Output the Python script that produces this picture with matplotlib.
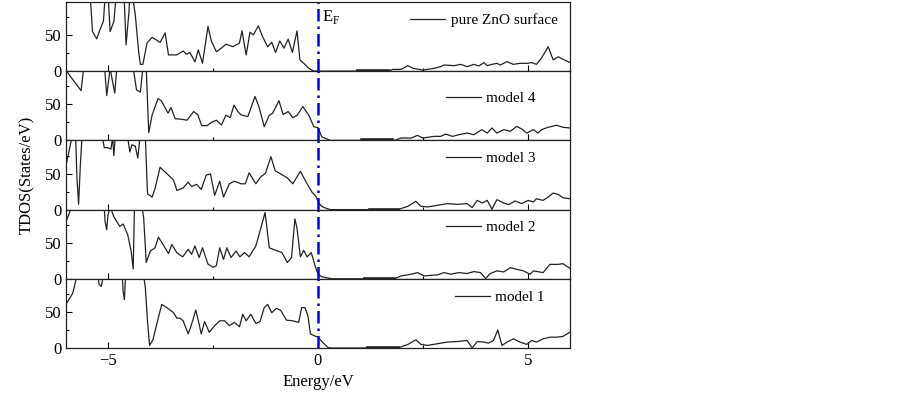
import matplotlib
matplotlib.use("Agg")
import matplotlib.pyplot as plt
from matplotlib.ticker import MultipleLocator, FixedLocator

plt.rcParams['font.family'] = ['Liberation Serif', 'DejaVu Serif']
plt.rcParams['mathtext.fontset'] = 'custom'
plt.rcParams['mathtext.rm'] = 'Liberation Serif'

# ---------------- data ----------------
labels = ["pure ZnO surface", "model 4", "model 3", "model 2", "model 1"]

e_pure = [-6.0, -5.45, -5.37, -5.27, -5.16, -5.11, -5.06, -5.0, -4.95, -4.86, -4.80, -4.62, -4.57, -4.50, -4.48,
          -4.43, -4.35, -4.27, -4.23, -4.17, -4.07, -3.95, -3.76, -3.64, -3.56, -3.36, -3.21, -3.13, -3.05, -2.93,
          -2.85, -2.75, -2.62, -2.54, -2.42, -2.30, -2.19, -2.03, -1.87, -1.81, -1.71, -1.62, -1.54, -1.42, -1.32,
          -1.20, -1.10, -1.01, -0.91, -0.81, -0.71, -0.61, -0.50, -0.43, -0.34, -0.22, -0.10, 0.02, 0.5, 0.96,
          1.67, 1.78, 1.98, 2.14, 2.26, 2.41, 2.49, 2.61, 2.77, 2.92, 3.0, 3.24, 3.4, 3.55, 3.71,
          3.83, 3.95, 4.03, 4.14, 4.26, 4.34, 4.5, 4.65, 4.81, 4.97, 5.09, 5.2, 5.32, 5.48, 5.6,
          5.72, 5.83, 6.0]
d_pure = [130, 130, 55.2, 44.9, 62.2, 69, 110, 110, 55, 69, 110, 110, 36.5, 83, 110,
          110, 78, 27, 9.5, 9.5, 39, 47, 40, 53, 22.6, 22.6, 28, 23.5, 26, 13,
          29.6, 11, 62, 42, 27, 32, 37.5, 34, 39, 56, 22.6, 54, 50.5, 63, 48,
          34, 40, 26, 42, 32, 44.5, 26, 56, 15.6, 11, 4, 0.2, 0, 0, 0,
          0, 2.5, 2.5, 7.7, 4, 2.6, 1.6, 2.6, 4, 6.3, 8.6, 7.7, 9.5, 6.3, 9.5,
          7.2, 11.9, 7.7, 9.5, 10.9, 8.6, 13.3, 9.5, 10.9, 10.9, 11.9, 9.5, 18, 34, 15.6,
          20, 16.5, 12]

e_m4 = [-6.0, -5.64, -5.58, -5.08, -5.03, -4.95, -4.84, -4.79, -4.40, -4.32, -4.23, -4.17, -4.09, -4.03, -3.95,
        -3.81, -3.73, -3.57, -3.5, -3.4, -3.26, -3.12, -2.96, -2.86, -2.77, -2.64, -2.54, -2.42, -2.3, -2.19,
        -2.09, -2.0, -1.91, -1.83, -1.67, -1.5, -1.4, -1.28, -1.16, -1.08, -0.93, -0.83, -0.71, -0.6, -0.5,
        -0.36, -0.22, -0.1, 0.0, 0.09, 0.21, 0.3, 1.82, 1.98, 2.22, 2.37, 2.49, 2.77, 2.92, 3.04,
        3.2, 3.36, 3.55, 3.71, 3.9, 4.03, 4.14, 4.26, 4.42, 4.58, 4.73, 4.85, 4.97, 5.13, 5.24,
        5.32, 5.48, 5.68, 5.83, 6.0]
d_m4 = [97, 69, 100, 100, 62, 100, 65.6, 100, 100, 70, 67, 100, 100, 10.7, 35,
        58, 55, 37.7, 45.6, 30, 29.5, 28, 40, 35.4, 20.5, 20.5, 25, 28, 21.4, 35,
        31.7, 49, 40, 35.4, 33, 61, 45.6, 19, 35, 37.7, 55, 36, 40, 31.7, 34.5,
        47, 35, 19, 17.7, 5, 1.9, 0, 0, 3.3, 3.3, 7, 3.3, 5.6, 5.6, 8.8,
        5.6, 7.9, 10.2, 7.9, 14.9, 10.2, 17.2, 10.2, 14.9, 12.6, 19.5, 15.8, 10.2, 14.9, 10.2,
        14.9, 18.2, 21, 18.2, 17.2]

e_m3 = [-6.0, -5.86, -5.77, -5.74, -5.70, -5.66, -5.62, -5.13, -5.09, -5.01, -4.93, -4.89, -4.86, -4.83, -4.53,
        -4.48, -4.43, -4.35, -4.29, -4.24, -4.11, -4.06, -3.95, -3.88, -3.76, -3.6, -3.44, -3.36, -3.21, -3.09,
        -3.01, -2.89, -2.78, -2.66, -2.56, -2.46, -2.34, -2.25, -2.11, -1.99, -1.83, -1.73, -1.64, -1.48, -1.37,
        -1.25, -1.12, -1.02, -0.89, -0.73, -0.6, -0.42, -0.26, -0.14, -0.05, 0.02, 0.09, 0.21, 0.3, 1.9,
        2.14, 2.33, 2.45, 2.61, 2.85, 3.08, 3.32, 3.55, 3.67, 3.79, 3.91, 4.03, 4.14, 4.26, 4.42,
        4.54, 4.69, 4.85, 5.0, 5.13, 5.2, 5.36, 5.48, 5.6, 5.72, 5.83, 6.0]
d_m3 = [61, 100, 100, 45, 7.3, 60, 100, 100, 86, 86, 84, 100, 75, 100, 100,
        80, 90, 88, 71.5, 100, 100, 22, 17.4, 29, 58.7, 50, 41, 26.6, 30, 38,
        32, 35, 28, 48, 49.5, 19.7, 39.4, 17.4, 35.8, 39.4, 35.8, 35.8, 51, 35.8, 45,
        50.5, 73.4, 54, 49.5, 44, 35.8, 53, 35.8, 24, 18.3, 9, 4.5, 1.4, 0, 0,
        4.6, 11.5, 4.6, 3.7, 6, 8.3, 7.3, 8.3, 2.8, 12.8, 9.2, 12.8, 0.5, 13.8, 9.2,
        6.9, 12, 8.3, 12.8, 10.6, 15, 12.8, 17.4, 23, 21, 16.5, 15]

e_m2 = [-6.0, -5.86, -5.09, -5.07, -5.03, -5.0, -4.95, -4.86, -4.72, -4.64, -4.53, -4.45, -4.40, -4.37, -4.19,
        -4.15, -4.09, -3.99, -3.88, -3.8, -3.7, -3.56, -3.48, -3.36, -3.22, -3.09, -3.01, -2.93, -2.83, -2.75,
        -2.62, -2.5, -2.42, -2.34, -2.25, -2.17, -2.07, -1.95, -1.86, -1.75, -1.64, -1.48, -1.36, -1.26, -1.16,
        -1.01, -0.86, -0.73, -0.63, -0.55, -0.5, -0.42, -0.34, -0.26, -0.16, -0.06, 0.0, 0.08, 0.33, 1.82,
        1.98, 2.22, 2.37, 2.53, 2.85, 3.0, 3.16, 3.36, 3.55, 3.71, 3.87, 3.99, 4.1, 4.26, 4.42,
        4.58, 4.73, 4.89, 5.05, 5.13, 5.36, 5.52, 5.72, 5.83, 6.0]
d_m2 = [79.5, 100, 100, 79.5, 68, 88.6, 100, 86, 72.7, 76, 61, 38.6, 13.6, 100, 100,
        84, 22.7, 38.6, 43, 57.7, 48.6, 35, 47.7, 36, 30.5, 41, 34, 45.5, 29.5, 43,
        20.5, 16, 18.2, 43, 27, 43, 29.5, 38.6, 30.5, 36.4, 30.5, 45.5, 70.5, 92, 43,
        39.5, 36.4, 22.7, 29.5, 83, 70.5, 30.5, 39.5, 30.5, 36.4, 16, 6.8, 3, 0, 0,
        4, 6.4, 8.6, 4, 5.5, 8.6, 6.4, 8.6, 7.3, 10, 8.6, 0.5, 7.3, 11, 9.5,
        15.5, 13.2, 11, 6.4, 11, 8.6, 20, 20, 21, 14.5]

e_m1 = [-6.0, -5.84, -5.79, -5.74, -5.24, -5.21, -5.16, -5.11, -4.66, -4.64, -4.61, -4.58, -4.15, -4.11, -4.06,
        -4.01, -3.93, -3.82, -3.72, -3.6, -3.44, -3.36, -3.29, -3.21, -3.09, -3.01, -2.91, -2.83, -2.78, -2.7,
        -2.59, -2.46, -2.34, -2.22, -2.11, -1.99, -1.87, -1.79, -1.71, -1.6, -1.48, -1.38, -1.28, -1.2, -1.1,
        -0.99, -0.89, -0.75, -0.6, -0.46, -0.39, -0.31, -0.24, -0.18, -0.1, 0.0, 0.11, 0.24, 0.33, 1.9,
        2.14, 2.33, 2.45, 2.61, 2.85, 3.08, 3.32, 3.55, 3.67, 3.79, 3.95, 4.06, 4.18, 4.28, 4.38,
        4.5, 4.65, 4.81, 4.97, 5.09, 5.2, 5.36, 5.52, 5.68, 5.83, 6.0]
d_m1 = [60.5, 76, 88, 100, 100, 88, 85.5, 100, 100, 78.6, 67, 100, 100, 83, 37.7,
        3.6, 11.4, 37.7, 60.5, 56, 49, 41.4, 41.4, 37.7, 19.5, 33, 52.7, 33, 19.5, 36.8,
        21.8, 31, 37.7, 37.7, 31, 35.5, 29.5, 46.8, 37.7, 46.8, 34, 36.8, 56, 60.5, 49,
        55, 52.3, 38.6, 37.7, 35.5, 56, 56, 44.5, 19.5, 17.3, 15, 8, 0.5, 0, 0,
        5, 11.4, 5, 3.6, 6, 8.2, 9, 10.5, 0, 9, 8.2, 6.8, 10.5, 25, 3.6,
        8.2, 12.7, 8.2, 5, 10.5, 8.2, 12.7, 15, 15, 16, 22]

energies = [e_pure, e_m4, e_m3, e_m2, e_m1]
tdos = [d_pure, d_m4, d_m3, d_m2, d_m1]

# zero-DOS (band gap) stretch drawn heavier in the reference
gap_start = [0.96, 1.05, 1.23, 1.12, 1.2]
gap_end = [1.67, 1.75, 1.9, 1.82, 1.9]

x_ticks = [-5, 0, 5]
y_ticks = [0, 50]
fermi_level = 0.0

# legend placement (axes fraction of right edge / vertical centre)
leg_pos = [(0.975, 0.74), (0.932, 0.61), (0.932, 0.74), (0.932, 0.74), (0.95, 0.73)]

# ---------------- figure ----------------
fig = plt.figure(figsize=(9.03, 3.97), dpi=100)
gs = fig.add_gridspec(5, 1, left=66/903, right=570/903, top=1-2/397, bottom=1-348/397, hspace=0)
axes = [fig.add_subplot(gs[i, 0]) for i in range(5)]

for i, ax in enumerate(axes):
    ax.plot(energies[i], tdos[i], color='#222222', lw=0.9, label=labels[i])
    ax.plot([gap_start[i], gap_end[i]], [0, 0], color='#222222', lw=2.6, clip_on=True)
    ax.axvline(fermi_level, color='#0000ee', lw=1.8, ls=(0, (5, 2, 1, 2)))
    ax.set_xlim(-6, 6)
    ax.set_ylim(0, 96)
    ax.xaxis.set_major_locator(FixedLocator(x_ticks))
    ax.xaxis.set_minor_locator(MultipleLocator(2.5))
    ax.yaxis.set_major_locator(FixedLocator(y_ticks))
    ax.yaxis.set_minor_locator(FixedLocator([25, 75]))
    ax.tick_params(which='both', direction='in', labelsize=12, top=False, right=False)
    ax.tick_params(which='major', length=4, width=0.8)
    ax.tick_params(which='minor', length=2.5, width=0.8)
    for s in ax.spines.values():
        s.set_linewidth(0.9)
        s.set_color('#222222')
    if i < 4:
        ax.tick_params(labelbottom=False)
    lx, ly = leg_pos[i]
    ax.legend(loc='center right', bbox_to_anchor=(lx, ly), frameon=False, fontsize=11,
              handlelength=2.3, handletextpad=0.35, borderpad=0, borderaxespad=0)

axes[0].text(0.1, 0.78, r'E$_\mathregular{F}$', fontsize=12, transform=axes[0].get_xaxis_transform(),
             ha='left', va='center')

axes[-1].set_xlabel('Energy/eV', fontsize=12, labelpad=4)
fig.text(27/903, 1-175/397, 'TDOS(States/eV)', rotation=90, ha='center', va='center', fontsize=12)

fig.savefig('out.png', dpi=100)
